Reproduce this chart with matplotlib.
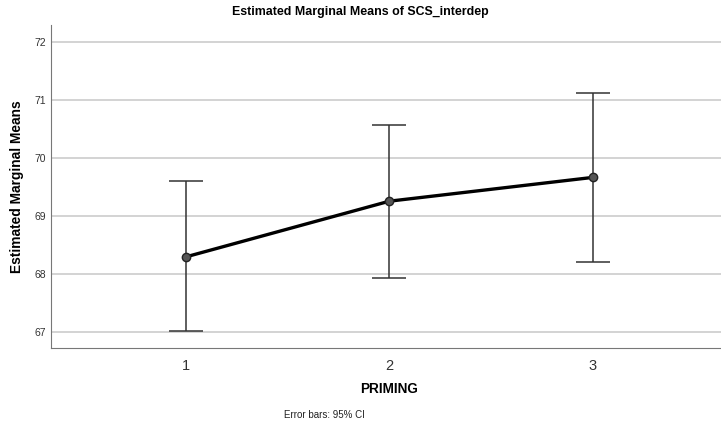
import matplotlib.pyplot as plt

plt.rcParams['font.family'] = ['Liberation Sans', 'DejaVu Sans']

priming = [1, 2, 3]
means = [68.29, 69.25, 69.66]
ci_low = [67.01, 67.93, 68.20]
ci_high = [69.59, 70.57, 71.12]

err_lo = [m - l for m, l in zip(means, ci_low)]
err_hi = [h - m for m, h in zip(means, ci_high)]

fig = plt.figure(figsize=(7.21, 4.28), dpi=100)
ax = fig.add_axes([0.0707, 0.187, 0.9293, 0.755])

ax.yaxis.grid(True, color='#cccccc', linewidth=1.2)
ax.set_axisbelow(True)

ax.errorbar(priming, means, yerr=[err_lo, err_hi], fmt='none', ecolor='#333333',
            elinewidth=1.1, capsize=12, capthick=1.1, zorder=2)
ax.plot(priming, means, color='black', linewidth=2.4, marker='o', markersize=6,
        markerfacecolor='#555555', markeredgecolor='#222222', zorder=3)

ax.set_xlim(0.337, 3.63)
ax.set_ylim(66.72, 72.29)
ax.set_xticks(priming)
ax.set_yticks([67, 68, 69, 70, 71, 72])
ax.tick_params(axis='y', length=0, labelsize=7.5, pad=3.5, labelcolor='#333333')
ax.tick_params(axis='x', length=0, labelsize=10.5, pad=8, labelcolor='#333333')

for s in ['top', 'right']:
    ax.spines[s].set_visible(False)
for s in ['left', 'bottom']:
    ax.spines[s].set_color('#777777')

fig.text(0.5, 0.972, "Estimated Marginal Means of SCS_interdep", fontweight='bold',
         fontsize=8.9, ha='center', va='center')
fig.text(0.024, 0.565, "Estimated Marginal Means", fontweight='bold', fontsize=9.9,
         rotation=90, ha='center', va='center')
fig.text(0.54, 0.091, "PRIMING", fontweight='bold', fontsize=9.8, ha='center', va='center')
fig.text(0.45, 0.023, "Error bars: 95% CI", fontsize=7, ha='center', color='#222222')

fig.savefig("out.png", dpi=100)
